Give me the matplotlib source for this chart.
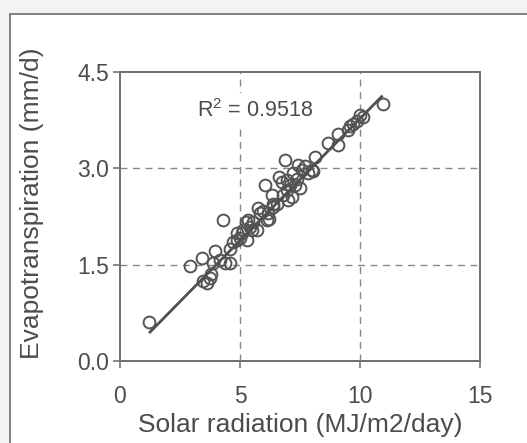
import numpy as np
import matplotlib
matplotlib.use("Agg")
import matplotlib.pyplot as plt
from matplotlib.patches import Rectangle

solar = [1.22, 2.92, 3.43, 3.44, 3.61, 3.75, 3.78, 3.96, 3.89, 4.17, 4.28, 4.38,
         4.58, 4.58, 4.72, 4.86, 5.00, 5.14, 5.28, 5.35, 5.42, 5.56, 5.69, 5.76,
         5.83, 6.04, 6.11, 6.18, 6.32, 6.39, 6.53, 6.64, 6.74, 6.78, 6.88, 6.94,
         7.08, 7.22, 7.29, 7.43, 7.50, 7.57, 7.71, 7.85, 7.99, 8.13, 8.05, 8.68,
         9.10, 9.10, 9.51, 9.58, 9.72, 9.86, 10.00, 10.14, 10.94,
         4.86, 5.07, 5.25, 5.51, 5.97, 6.22, 6.36, 6.94, 7.01, 7.15, 7.36]
et = [0.60, 1.48, 1.60, 1.24, 1.22, 1.29, 1.36, 1.72, 1.52, 1.57, 2.20, 1.52,
      1.52, 1.75, 1.86, 1.99, 1.91, 2.04, 1.88, 2.20, 2.09, 2.17, 2.04, 2.38,
      2.30, 2.74, 2.20, 2.30, 2.58, 2.40, 2.45, 2.87, 2.79, 2.58, 3.13, 2.66,
      2.74, 2.92, 2.74, 3.05, 2.69, 2.97, 3.03, 2.92, 2.97, 3.18, 2.96, 3.40,
      3.54, 3.36, 3.60, 3.66, 3.69, 3.73, 3.83, 3.80, 4.00,
      1.88, 1.99, 2.17, 2.04, 2.33, 2.21, 2.44, 2.82, 2.51, 2.56, 2.84]

fit_slope = 0.380
fit_intercept = -0.025
fit_x = [1.25, 10.9]

x_ticks = [0, 5, 10, 15]
y_ticks = [0.0, 1.5, 3.0, 4.5]
y_tick_labels = ["0.0", "1.5", "3.0", "4.5"]
r2_text = "R$^2$ = 0.9518"
x_label = "Solar radiation (MJ/m2/day)"
y_label = "Evapotranspiration (mm/d)"

plt.rcParams['font.family'] = ['Liberation Sans', 'DejaVu Sans']
plt.rcParams['mathtext.fontset'] = 'custom'
plt.rcParams['mathtext.rm'] = 'Liberation Sans'
text_col = "#4c4c4c"
W, H = 527, 443
fig = plt.figure(figsize=(W / 100, H / 100), dpi=100, facecolor="#f3f3f3")

# outer frame of the scanned figure
fig.patches.append(Rectangle((10 / W, -0.1), 1.1, 1.1 - 14 / H, transform=fig.transFigure,
                             facecolor="white", edgecolor="#777777", linewidth=1.3,
                             zorder=-10))

ax = fig.add_axes([120 / W, 1 - 361 / H, 360 / W, 289 / H])
ax.set_xlim(0, 15)
ax.set_ylim(0, 4.5)
ax.set_xticks(x_ticks)
ax.set_yticks(y_ticks)
ax.set_yticklabels(y_tick_labels)

for xv in x_ticks[1:-1]:
    ax.axvline(xv, linestyle=(0, (5, 4)), color="#888888", linewidth=1.0, zorder=1)
for yv in y_ticks[1:-1]:
    ax.axhline(yv, linestyle=(0, (5, 4)), color="#888888", linewidth=1.0, zorder=1)

ax.plot(solar, et, linestyle="none", marker="o", markersize=8.5,
        markerfacecolor="none", markeredgecolor="#555555", markeredgewidth=1.4, zorder=3)

fx = np.array(fit_x)
ax.plot(fx, fit_slope * fx + fit_intercept, color="#505050", linewidth=2.0, zorder=4)

ax.text(3.2, 3.9, r2_text, fontsize=15.5, color=text_col, va="center", ha="left",
        zorder=5, bbox=dict(facecolor="white", edgecolor="none", pad=4))

for s in ax.spines.values():
    s.set_color("#707070")
    s.set_linewidth(1.4)

ax.tick_params(axis="both", direction="out", length=5, width=1.2, color="#777777",
               labelcolor=text_col, labelsize=16.5)
ax.tick_params(axis="x", pad=12)
ax.tick_params(axis="y", pad=3)

ax.set_xlabel(x_label, fontsize=19, color=text_col)
ax.set_ylabel(y_label, fontsize=19, color=text_col)
ax.xaxis.set_label_coords(0.5, (361 - 413) / 289)
ax.yaxis.set_label_coords((20 - 120) / 360, (361 - 203) / 289)
ax.yaxis.label.set_va("top")

fig.savefig("out.png", dpi=100, facecolor=fig.get_facecolor())
